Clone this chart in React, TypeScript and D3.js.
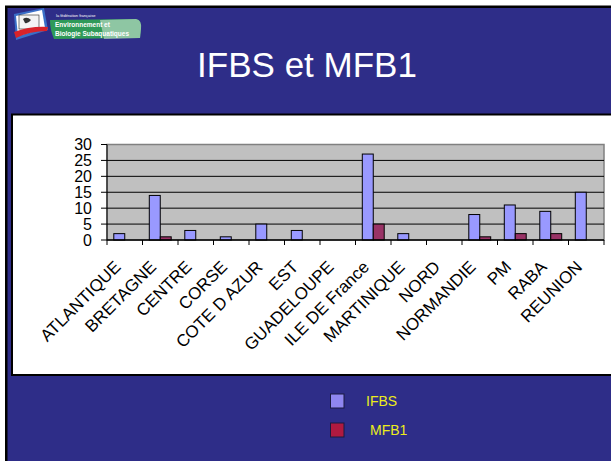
import React from "react";
import * as d3 from "d3";

const W = 611;
const H = 461;

const categories = [
  "ATLANTIQUE",
  "BRETAGNE",
  "CENTRE",
  "CORSE",
  "COTE D AZUR",
  "EST",
  "GUADELOUPE",
  "ILE DE France",
  "MARTINIQUE",
  "NORD",
  "NORMANDIE",
  "PM",
  "RABA",
  "REUNION",
];
const seriesNames = ["IFBS", "MFB1"];
const ifbs = [2, 14, 3, 1, 5, 3, 0, 27, 2, 0, 8, 11, 9, 15];
const mfb1 = [0, 1, 0, 0, 0, 0, 0, 5, 0, 0, 1, 2, 2, 0];
const yTicks = [0, 5, 10, 15, 20, 25, 30];

const barColors = ["#9999ff", "#993366"];
const legendColors = ["#8f86f0", "#b01a40"];
const slideBlue = "#2e2d88";

const plot = { left: 107, right: 604, top: 144.5, bottom: 240 };

const App = () => {
  const x = d3
    .scaleBand<string>()
    .domain(categories)
    .range([plot.left, plot.right])
    .padding(0);
  const xs = d3
    .scaleBand<string>()
    .domain(seriesNames)
    .range([0, x.bandwidth()])
    .paddingInner(0)
    .paddingOuter(0.62);
  const y = d3.scaleLinear().domain([0, 30]).range([plot.bottom, plot.top]);

  const series = [ifbs, mfb1];
  const bars = series.flatMap((vals, si) =>
    vals
      .map((v, i) => ({ v, cat: categories[i], s: seriesNames[si], si }))
      .filter((d) => d.v > 0)
  );
  const boundaries = [...categories.map((c) => x(c) as number), plot.right];

  return (
    <svg
      width={W}
      height={H}
      style={{ position: "fixed", left: 0, top: 0 }}
      fontFamily="Arial, 'Liberation Sans', sans-serif"
    >
      <rect x={0} y={0} width={W} height={H} fill="#ffffff" />
      <rect x={5} y={5.5} width={W} height={H} fill="#000000" />
      <rect x={7.5} y={8} width={W} height={H} fill={slideBlue} />

      {/* logo */}
      <g>
        <path d="M14,14 L44,8 L48,30 L16,40 Z" fill="#3a6fc8" />
        <path d="M16,16 L42,10 L45,28 L18,36 Z" fill="#ffffff" />
        <rect x={19} y={15} width={20} height={14} fill="#f4f4f4" stroke="#222" strokeWidth={0.6} />
        <path d="M23,19 q4,-3 8,1 q-3,4 -6,3 z" fill="#333" />
        <path d="M14,32 Q30,26 48,27 L47,31 Q30,31 16,38 Z" fill="#d8232a" />
        <path d="M50,20 L136,19 Q142,20 141,29 L140,38 L54,39 Q50,30 50,20 Z" fill="#2f9a58" />
        <path d="M100,20 L136,19 Q142,20 141,29 L140,38 L104,39 Z" fill="#cfe5d6" opacity={0.6} />
        <text x={56} y={17} fontSize={4} fill="#ffffff">la fédération française</text>
        <text x={55} y={27} fontSize={6.5} fontWeight="bold" fill="#ffffff">
          Environnement et
        </text>
        <text x={55} y={36} fontSize={6.5} fontWeight="bold" fill="#ffffff">
          Biologie Subaquatiques
        </text>
      </g>

      <text x={307} y={77} textAnchor="middle" fontSize={35} fill="#ffffff">
        IFBS et MFB1
      </text>

      {/* white chart panel */}
      <rect x={12} y={114.5} width={W} height={260.5} fill="#ffffff" stroke="#000" strokeWidth={2} />

      {/* plot area */}
      <rect
        x={plot.left}
        y={plot.top}
        width={plot.right - plot.left}
        height={plot.bottom - plot.top}
        fill="#c0c0c0"
        stroke="#808080"
        strokeWidth={1.5}
      />
      {yTicks.slice(1, -1).map((t) => (
        <line key={t} x1={plot.left} x2={plot.right} y1={y(t)} y2={y(t)} stroke="#000" strokeWidth={1} />
      ))}

      {bars.map((d) => (
        <rect
          key={d.s + d.cat}
          x={(x(d.cat) as number) + (xs(d.s) as number)}
          y={y(d.v)}
          width={xs.bandwidth()}
          height={y(0) - y(d.v)}
          fill={barColors[d.si]}
          stroke="#000"
          strokeWidth={1}
        />
      ))}

      {/* y axis */}
      <line x1={plot.left} x2={plot.left} y1={plot.top} y2={plot.bottom} stroke="#000" strokeWidth={1} />
      {yTicks.map((t) => (
        <g key={t}>
          <line x1={plot.left - 6} x2={plot.left} y1={y(t)} y2={y(t)} stroke="#000" />
          <text x={92} y={y(t)} dy="0.36em" textAnchor="end" fontSize={16} fill="#000">
            {t}
          </text>
        </g>
      ))}

      {/* x axis */}
      <line x1={plot.left} x2={plot.right} y1={plot.bottom} y2={plot.bottom} stroke="#000" strokeWidth={1.5} />
      {boundaries.map((b, i) => (
        <line key={i} x1={b} x2={b} y1={plot.bottom} y2={plot.bottom + 5} stroke="#000" />
      ))}
      {categories.map((c) => {
        const cx = (x(c) as number) + x.bandwidth() / 2 - 3;
        const cy = 268;
        return (
          <text
            key={c}
            x={cx}
            y={cy}
            transform={`rotate(-45 ${cx} ${cy})`}
            textAnchor="end"
            fontSize={17}
            fill="#000"
          >
            {c}
          </text>
        );
      })}

      {/* legend */}
      {seriesNames.map((s, i) => (
        <g key={s}>
          <rect
            x={330.5}
            y={394 + i * 29}
            width={13.5}
            height={14}
            fill={legendColors[i]}
            stroke="#1a1a40"
            strokeWidth={1}
          />
          <text x={366 + i * 4} y={401 + i * 29} dy="0.36em" fontSize={14} fill="#ecec1c">
            {s}
          </text>
        </g>
      ))}
    </svg>
  );
};

export default App;
